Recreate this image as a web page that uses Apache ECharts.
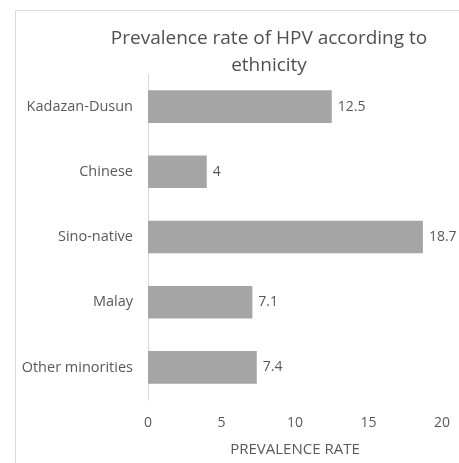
<!DOCTYPE html>
<html>
<head>
<meta charset="utf-8">
<script src="https://cdn.jsdelivr.net/npm/echarts@6/dist/echarts.min.js"></script>
<style>
  html, body { margin: 0; padding: 0; background: #fff; }
  #chart { width: 459px; height: 463px; }
</style>
</head>
<body>
<div id="chart"></div>
<script>
var categories = ["Kadazan-Dusun", "Chinese", "Sino-native", "Malay", "Other minorities"];
var prevalence = [12.5, 4, 18.7, 7.1, 7.4];
var xTicks = [0, 5, 10, 15, 20];

var chart = echarts.init(document.getElementById("chart"));
var font = "'Open Sans', sans-serif";

chart.setOption({
  animation: false,
  textStyle: { fontFamily: font },
  title: {
    text: "Prevalence rate of HPV according to\nethnicity",
    left: 264,
    top: 20,
    textAlign: "center",
    textStyle: { fontFamily: font, fontSize: 19, fontWeight: "normal", color: "#505050", lineHeight: 27 }
  },
  graphic: [{
    type: "rect",
    silent: true,
    shape: { x: 15.5, y: 10.5, width: 700, height: 700 },
    style: { fill: "none", stroke: "#d9d9d9", lineWidth: 1 }
  }],
  grid: { left: 148, right: 17, top: 74, bottom: 63, containLabel: false },
  xAxis: {
    type: "value",
    min: xTicks[0],
    max: xTicks[xTicks.length - 1],
    interval: 5,
    name: "PREVALENCE RATE",
    nameLocation: "middle",
    nameGap: 42,
    nameTextStyle: { color: "#595959", fontSize: 15, fontFamily: font },
    axisLine: { show: false },
    axisTick: { show: false },
    splitLine: { show: false },
    axisLabel: { color: "#595959", fontSize: 14, margin: 16, fontFamily: font }
  },
  yAxis: {
    type: "category",
    inverse: true,
    data: categories,
    axisLine: { show: true, lineStyle: { color: "#d9d9d9" } },
    axisTick: { show: false },
    axisLabel: { color: "#595959", fontSize: 14.5, margin: 15, fontFamily: font }
  },
  series: [{
    type: "bar",
    data: prevalence,
    barCategoryGap: "50%",
    itemStyle: { color: "#a5a5a5" },
    label: { show: true, position: "right", distance: 6, color: "#595959", fontSize: 14, fontFamily: font }
  }]
});
</script>
</body>
</html>
